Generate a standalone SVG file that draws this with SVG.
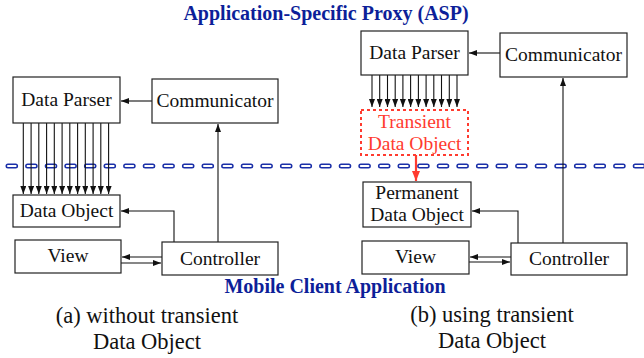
<svg xmlns="http://www.w3.org/2000/svg" width="644" height="358" viewBox="0 0 644 358">
<style>
.box{fill:#fff;stroke:#222;stroke-width:1.2}
.lbl{font-family:"Liberation Serif","Tinos","Times New Roman","DejaVu Serif",serif;font-size:19.5px;fill:#111;text-anchor:middle}
.red{fill:#ff3b2f}
.cap{font-family:"Liberation Serif","Tinos","Times New Roman","DejaVu Serif",serif;font-size:22.5px;fill:#111;text-anchor:middle}
.ttl{font-family:"Liberation Serif","Tinos","Times New Roman","DejaVu Serif",serif;font-size:20px;font-weight:bold;fill:#0d1f99;text-anchor:middle}
.c{fill:none;stroke:#111;stroke-width:1.1}
.cr{fill:none;stroke:#ff3b2f;stroke-width:2.2}
</style>
<defs>
<marker id="ah" viewBox="0 0 8 6" refX="8" refY="3" markerWidth="8" markerHeight="6" markerUnits="userSpaceOnUse" orient="auto">
<path d="M0,0 L8,3 L0,6 z" fill="#111"/>
</marker>
<marker id="ahr" viewBox="0 0 10 8" refX="10" refY="4" markerWidth="10" markerHeight="8" markerUnits="userSpaceOnUse" orient="auto">
<path d="M0,0 L10,4 L0,8 z" fill="#ff3b2f"/>
</marker>
</defs>
<rect width="644" height="358" fill="#fff"/>

<g id="titles">
<text class="ttl" x="326" y="20">Application-Specific Proxy (ASP)</text>
<text class="ttl" x="335" y="293">Mobile Client Application</text>
<text class="cap" x="147" y="323">(a) without transient</text>
<text class="cap" x="147" y="349">Data Object</text>
<text class="cap" x="492" y="322">(b) using transient</text>
<text class="cap" x="492" y="348">Data Object</text>
</g>

<g id="boundary">
<line x1="8" y1="166" x2="644" y2="166" stroke="#1a2fa8" stroke-width="5" stroke-linecap="round" stroke-dasharray="7.6 12"/>
<line x1="8" y1="166" x2="644" y2="166" stroke="#fff" stroke-width="2" stroke-linecap="round" stroke-dasharray="7.6 12"/>
</g>

<g id="connectors">
<line class="c" x1="152" y1="101" x2="121" y2="101" marker-end="url(#ah)"/>
<g class="c">
<line x1="23.3" y1="123" x2="23.3" y2="194" marker-end="url(#ah)"/>
<line x1="31.1" y1="123" x2="31.1" y2="194" marker-end="url(#ah)"/>
<line x1="38.8" y1="123" x2="38.8" y2="194" marker-end="url(#ah)"/>
<line x1="46.6" y1="123" x2="46.6" y2="194" marker-end="url(#ah)"/>
<line x1="54.3" y1="123" x2="54.3" y2="194" marker-end="url(#ah)"/>
<line x1="62.1" y1="123" x2="62.1" y2="194" marker-end="url(#ah)"/>
<line x1="69.8" y1="123" x2="69.8" y2="194" marker-end="url(#ah)"/>
<line x1="77.6" y1="123" x2="77.6" y2="194" marker-end="url(#ah)"/>
<line x1="85.3" y1="123" x2="85.3" y2="194" marker-end="url(#ah)"/>
<line x1="93.1" y1="123" x2="93.1" y2="194" marker-end="url(#ah)"/>
<line x1="100.8" y1="123" x2="100.8" y2="194" marker-end="url(#ah)"/>
<line x1="108.6" y1="123" x2="108.6" y2="194" marker-end="url(#ah)"/>
</g>
<polyline class="c" points="174,242 174,211 121,211" marker-end="url(#ah)"/>
<line class="c" x1="218" y1="242" x2="218" y2="124" marker-end="url(#ah)"/>
<line class="c" x1="162" y1="257" x2="122" y2="257" marker-end="url(#ah)"/>
<line class="c" x1="121" y1="263" x2="161" y2="263" marker-end="url(#ah)"/>

<line class="c" x1="500" y1="53" x2="469" y2="53" marker-end="url(#ah)"/>
<g class="c">
<line x1="372" y1="75" x2="372" y2="107" marker-end="url(#ah)"/>
<line x1="379.7" y1="75" x2="379.7" y2="107" marker-end="url(#ah)"/>
<line x1="387.5" y1="75" x2="387.5" y2="107" marker-end="url(#ah)"/>
<line x1="395.2" y1="75" x2="395.2" y2="107" marker-end="url(#ah)"/>
<line x1="402.9" y1="75" x2="402.9" y2="107" marker-end="url(#ah)"/>
<line x1="410.6" y1="75" x2="410.6" y2="107" marker-end="url(#ah)"/>
<line x1="418.4" y1="75" x2="418.4" y2="107" marker-end="url(#ah)"/>
<line x1="426.1" y1="75" x2="426.1" y2="107" marker-end="url(#ah)"/>
<line x1="433.8" y1="75" x2="433.8" y2="107" marker-end="url(#ah)"/>
<line x1="441.5" y1="75" x2="441.5" y2="107" marker-end="url(#ah)"/>
<line x1="449.3" y1="75" x2="449.3" y2="107" marker-end="url(#ah)"/>
<line x1="457" y1="75" x2="457" y2="107" marker-end="url(#ah)"/>
</g>
<line class="cr" x1="416" y1="155" x2="416" y2="181" marker-end="url(#ahr)"/>
<polyline class="c" points="518,243 518,211 472,211" marker-end="url(#ah)"/>
<line class="c" x1="563" y1="243" x2="563" y2="78" marker-end="url(#ah)"/>
<line class="c" x1="511" y1="257" x2="470" y2="257" marker-end="url(#ah)"/>
<line class="c" x1="469" y1="262" x2="510" y2="262" marker-end="url(#ah)"/>
</g>

<g id="a-data-parser"><rect class="box" x="13" y="77" width="107" height="46"/><text class="lbl" x="66.5" y="106">Data Parser</text></g>
<g id="a-communicator"><rect class="box" x="152" y="79" width="126" height="44"/><text class="lbl" x="215" y="107">Communicator</text></g>
<g id="a-data-object"><rect class="box" x="13" y="195" width="107" height="32"/><text class="lbl" x="66.5" y="217">Data Object</text></g>
<g id="a-view"><rect class="box" x="15" y="240" width="106" height="33"/><text class="lbl" x="68" y="262">View</text></g>
<g id="a-controller"><rect class="box" x="162" y="242" width="116" height="33"/><text class="lbl" x="220" y="265">Controller</text></g>

<g id="b-data-parser"><rect class="box" x="361" y="31" width="107" height="44"/><text class="lbl" x="414.5" y="59">Data Parser</text></g>
<g id="b-communicator"><rect class="box" x="500" y="33" width="127" height="44"/><text class="lbl" x="563.5" y="61">Communicator</text></g>
<g id="b-transient"><rect x="361" y="110" width="107" height="45" fill="#fff" stroke="#ff3b2f" stroke-width="2" stroke-dasharray="3 3"/><text class="lbl red" x="414.5" y="128" style="fill:#ff3b2f">Transient</text><text class="lbl red" x="414.5" y="150" style="fill:#ff3b2f">Data Object</text></g>
<g id="b-permanent"><rect class="box" x="363" y="182" width="108" height="45"/><text class="lbl" x="417" y="199">Permanent</text><text class="lbl" x="417" y="221">Data Object</text></g>
<g id="b-view"><rect class="box" x="362" y="241" width="107" height="33"/><text class="lbl" x="415.5" y="263">View</text></g>
<g id="b-controller"><rect class="box" x="511" y="243" width="116" height="32"/><text class="lbl" x="569" y="265">Controller</text></g>
</svg>
